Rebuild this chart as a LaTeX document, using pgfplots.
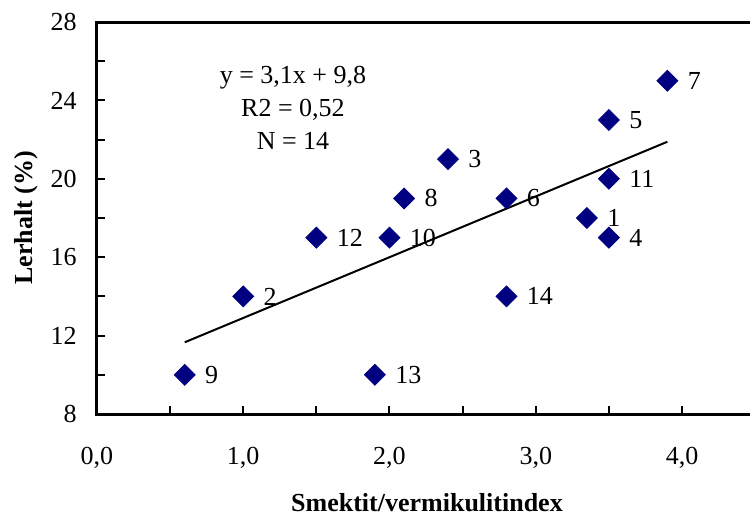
\documentclass[border=0pt]{standalone}
\usepackage{pgfplots}
\pgfplotsset{compat=1.18}
\usepackage{pgfplotstable}
\usepackage{fontspec}
\setmainfont{Liberation Serif}
\newcommand\fs{\fontsize{13}{16.5}\selectfont}
\definecolor{navymark}{HTML}{000080}
\pgfplotstableread{
x y label
3.35 18 1
1.0 14 2
2.4 21 3
3.5 17 4
3.5 23 5
2.8 19 6
3.9 25 7
2.1 19 8
0.6 10 9
2.0 17 10
3.5 20 11
1.5 17 12
1.9 10 13
2.8 14 14
}\datatab
\begin{document}
\begin{tikzpicture}
\begin{axis}[
  scale only axis,
  width=326.5pt, height=196pt,
  xmin=0, xmax=4.465, ymin=8, ymax=28,
  axis lines=left,
  axis line style={-, line width=1.5pt, line cap=rect},
  clip=false,
  tick align=inside,
  major tick length=4pt, minor tick length=4pt,
  every tick/.style={black, line width=1pt},
  xtick={0,1,2,3,4},
  xticklabels={{0,0},{1,0},{2,0},{3,0},{4,0}},
  minor xtick={0.5,1.5,2.5,3.5},
  ytick={8,12,16,20,24,28},
  yticklabels={8,12,16,20,24,28},
  minor ytick={10,14,18,22,26},
  xticklabel style={font=\fs, anchor=base, inner sep=0pt, yshift=-25pt},
  yticklabel style={font=\fs, anchor=east, inner sep=0pt, xshift=-10pt},
]
\draw[line width=1.5pt, line cap=rect] (rel axis cs:0,1) -- (rel axis cs:1,1);
\addplot[black, line width=1pt] coordinates {(0.6,11.66) (3.9,21.89)};
\addplot[only marks, mark=square*, mark size=3.7pt,
  mark options={rotate=45, fill=navymark, draw=navymark},
  nodes near coords, point meta=explicit symbolic,
  every node near coord/.append style={anchor=west, inner sep=0pt, xshift=10pt, font=\fs, text=black}]
  table[x=x, y=y, meta=label] {\datatab};
\node[align=center, font=\fs] at (axis cs:1.34,23.6) {y = 3,1x + 9,8\\R2 = 0,52\\N = 14};
\node[rotate=90, anchor=base, font=\fs\bfseries] at ([xshift=-32pt]rel axis cs:0,0.5) {Lerhalt (\%)};
\node[anchor=base, font=\fs\bfseries] at ([xshift=1.75pt,yshift=-48.5pt]rel axis cs:0.5,0) {Smektit/vermikulitindex};
\end{axis}
\pgfresetboundingbox
\path ([xshift=-48.5pt,yshift=-51pt]current axis.south west) rectangle ++(375pt,258pt);
\end{tikzpicture}
\end{document}
